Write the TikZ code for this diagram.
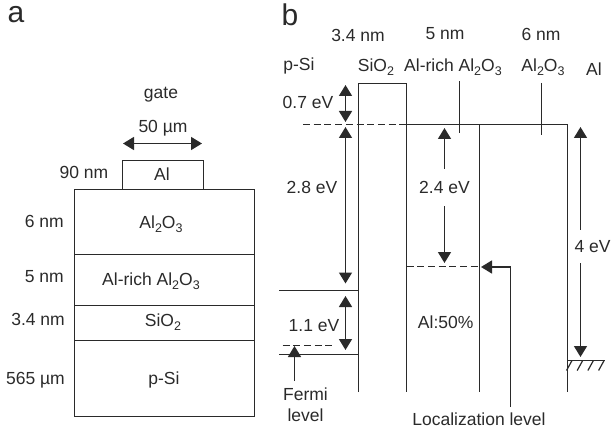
\documentclass[tikz,border=0pt]{standalone}
\usepackage{fontspec}
\setmainfont{Liberation Sans}
\usepackage{xcolor}
\usetikzlibrary{arrows.meta}
\definecolor{ink}{HTML}{2A2A2A}
\newcommand{\dn}[1]{\raisebox{-3.5pt}{\fontsize{12.5}{14}\selectfont #1}}
\newcommand{\alo}{Al\dn{2}O\dn{3}}

\begin{document}
\begin{tikzpicture}[x=1pt,y=-1pt,
  t/.style={text=ink,inner sep=0pt,font=\fontsize{17.5}{21}\selectfont,align=center},
  big/.style={text=ink,inner sep=0pt,font=\fontsize{30}{30}\selectfont},
  lay/.style={draw=ink,line width=1.5pt,inner sep=0pt,minimum width=180pt},
  l/.style={draw=ink,line width=1.5pt},
  d/.style={draw=ink,line width=1.5pt,dash pattern=on 7pt off 3.7pt},
  a/.style={draw=ink,line width=1.5pt,-{Triangle[length=11pt,width=13pt]}},
  b/.style={draw=ink,line width=1.5pt,{Triangle[length=11pt,width=13pt]}-{Triangle[length=11pt,width=13pt]}}]
\useasboundingbox (0,0) rectangle (611,433);
% panel a
\node[big] (pa) at (16,15) {a};
\node[t] (gate) at (161,95) {gate};
\node[t] (wid) at (163,128) {50 µm};
\node[lay,minimum width=81pt,minimum height=29pt] (gbox) at (163,175) {};
\node[lay,minimum height=65pt] (l6) at (164.5,222) {};
\node[lay,minimum height=51pt] (l5) at (164.5,280) {};
\node[lay,minimum height=35pt] (l3) at (164.5,323) {};
\node[lay,minimum height=76pt] (lsi) at (164.5,378.5) {};
\draw[b] (123,143.5) coordinate (wl) -- (202,143.5) coordinate (wr);
\node[t] (tal) at (162,174) {Al};
\node[t] (tl6) at (161,224) {\alo};
\node[t] (tl5) at (151,281) {Al-rich \alo};
\node[t] (tl3) at (163,322) {SiO\dn{2}};
\node[t] (tsi) at (164,380) {p-Si};
\node[t] (h90) at (84,172) {90 nm};
\node[t,anchor=east] (h6) at (64,221) {6 nm};
\node[t,anchor=east] (h5) at (64,277) {5 nm};
\node[t,anchor=east] (h3) at (65,319) {3.4 nm};
\node[t,anchor=east] (h565) at (65,380) {565 µm};
% panel b
\node[big] (pb) at (290,15) {b};
\node[t] (n3) at (358,35) {3.4 nm};
\node[t] (n5) at (445,34) {5 nm};
\node[t] (n6) at (541,34) {6 nm};
\node[t] (mp) at (299,66) {p-Si};
\node[t] (ms) at (376,67) {SiO\dn{2}};
\node[t] (mr) at (453,67) {Al-rich \alo};
\node[t] (ma) at (543,67) {\alo};
\node[t] (mal) at (594,69) {Al};
% band edges
\coordinate (sa) at (358.5,392);
\coordinate (sb) at (406.5,392);
\coordinate (sc) at (479.5,392);
\coordinate (sd) at (567.5,392);
\coordinate (st) at (358.5,83.5);
\coordinate (su) at (406.5,83.5);
\coordinate (sv) at (406.5,124.5);
\coordinate (sw) at (479.5,124.5);
\coordinate (sx) at (567.5,124.5);
\coordinate (de) at (303,124.5);
\draw[l] (sa) -- (st) -- (su) -- (sb);
\draw[l] (sv) -- (sx) -- (sd);
\draw[l] (sw) -- (sc);
\draw[d] (de) -- (sv);
\coordinate (va) at (279,290.5);
\coordinate (vb) at (358.5,290.5);
\coordinate (vc) at (279,354.5);
\coordinate (vd) at (358.5,354.5);
\draw[l] (va) -- (vb);
\draw[l] (vc) -- (vd);
\coordinate (fa) at (282.5,345.5);
\coordinate (fb) at (333,345.5);
\draw[d] (fa) -- (fb);
\coordinate (la) at (406.5,266.5);
\coordinate (lb) at (479.5,266.5);
\draw[d] (la) -- (lb);
% ticks from the layer names
\coordinate (ka) at (459.5,81.5);
\coordinate (kb) at (459.5,133);
\coordinate (kc) at (541.5,83);
\coordinate (kd) at (541.5,135);
\draw[l] (ka) -- (kb);
\draw[l] (kc) -- (kd);
% energies
\coordinate (ea) at (345.5,85);
\coordinate (eb) at (345.5,122);
\coordinate (ec) at (345.5,127);
\coordinate (ed) at (345.5,283.5);
\coordinate (ee) at (345.5,296);
\coordinate (ef) at (345.5,350);
\draw[b] (ea) -- (eb);
\draw[b] (ec) -- (ed);
\draw[b] (ee) -- (ef);
\node[t] (e07) at (308,102) {0.7 eV};
\node[t] (e28) at (312,187) {2.8 eV};
\node[t] (e11) at (314,326) {1.1 eV};
\coordinate (ga) at (444.5,128);
\coordinate (gb) at (444.5,263);
\draw[b] (ga) -- node[t,pos=.44,fill=white,minimum height=37pt] (e24) {2.4 eV} (gb);
\coordinate (ha) at (580.5,127);
\coordinate (hb) at (580.5,357);
\draw[b] (ha) -- node[t,pos=.52,xshift=12pt,fill=white,minimum height=33pt] (e4) {4 eV} (hb);
\node[t] (pc) at (445.7,322.7) {Al:50\%};
% ground
\coordinate (ra) at (567.5,360.5);
\coordinate (rb) at (605,360.5);
\draw[l] (ra) -- (rb);
\foreach \i in {0,1,2,3}
  \draw[draw=ink,line width=1.2pt] (572+\i*10.7,360.5) -- ++(-5.5,10);
% callouts
\node[t] (fe) at (305.5,405) {Fermi\\level};
\coordinate (fc) at (294.5,381);
\coordinate (fd) at (294.5,346);
\draw[a] (fc) -- (fd);
\node[t] (ll) at (479,419) {Localization level};
\coordinate (lc) at (510.5,407);
\coordinate (ld) at (510.5,267);
\coordinate (le) at (481,267);
\draw[a] (lc) -- (ld) -- (le);
\end{tikzpicture}
\end{document}
